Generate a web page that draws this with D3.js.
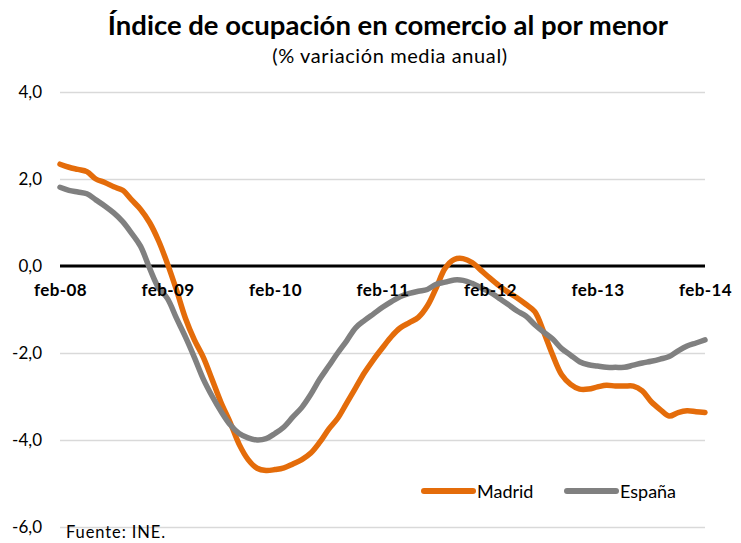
<!DOCTYPE html>
<html>
<head>
<meta charset="utf-8">
<script src="https://cdn.jsdelivr.net/npm/d3@7"></script>
<style>
  body { margin: 0; background: #fff; }
  svg { font-family: Lato, "Noto Sans", sans-serif; }
</style>
</head>
<body>
<div id="chart-area"></div>
<script>
// monthly categories feb-08 .. feb-14
const MONTHS = ['ene', 'feb', 'mar', 'abr', 'may', 'jun', 'jul', 'ago', 'sep', 'oct', 'nov', 'dic'];
const CATEGORIES = [];
for (let y = 8; y <= 14; y++) {
  MONTHS.forEach((m, i) => {
    if ((y === 8 && i < 1) || (y === 14 && i > 1)) return;
    CATEGORIES.push(m + '-' + String(y).padStart(2, '0'));
  });
}

const MADRID = [
  2.34, 2.27, 2.22, 2.17, 2.0, 1.92, 1.82, 1.74, 1.52, 1.30, 1.0, 0.58,
  0.05, -0.55, -1.2, -1.7, -2.1, -2.62, -3.15, -3.6, -4.1, -4.45, -4.65, -4.7,
  -4.68, -4.64, -4.55, -4.45, -4.3, -4.05, -3.75, -3.5, -3.15, -2.8, -2.45, -2.15,
  -1.88, -1.62, -1.42, -1.3, -1.18, -0.92, -0.5, -0.05, 0.15, 0.17, 0.08, -0.1,
  -0.28, -0.45, -0.6, -0.73, -0.88, -1.05, -1.52, -2.05, -2.5, -2.72, -2.83, -2.83,
  -2.78, -2.74, -2.76, -2.76, -2.76, -2.87, -3.12, -3.3, -3.45, -3.37, -3.33, -3.35,
  -3.37,
];

const ESPANA = [
  1.81, 1.74, 1.70, 1.66, 1.52, 1.38, 1.22, 1.02, 0.75, 0.45, -0.05, -0.5,
  -0.75, -1.2, -1.63, -2.1, -2.6, -3.0, -3.35, -3.65, -3.85, -3.95, -4.0, -3.97,
  -3.85, -3.7, -3.47, -3.25, -2.95, -2.6, -2.3, -2.0, -1.72, -1.42, -1.25, -1.1,
  -0.95, -0.82, -0.7, -0.63, -0.58, -0.54, -0.42, -0.37, -0.32, -0.33, -0.4, -0.5,
  -0.6, -0.74, -0.88, -1.03, -1.15, -1.35, -1.52, -1.68, -1.9, -2.05, -2.2, -2.27,
  -2.3, -2.33, -2.33, -2.33, -2.28, -2.23, -2.19, -2.14, -2.08, -1.95, -1.84, -1.77,
  -1.70,
];

const Y_TICKS = [-6, -4, -2, 0, 2, 4];
const X_TICKS = ['feb-08', 'feb-09', 'feb-10', 'feb-11', 'feb-12', 'feb-13', 'feb-14'];

const SERIES = [
  { name: 'Madrid', values: MADRID, stroke: '#E46C0A' },
  { name: 'España', values: ESPANA, stroke: '#808080' },
];

const W = 741, H = 543;
const margin = { top: 92, right: 36, bottom: 16, left: 60 };
const width = W - margin.left - margin.right;
const height = H - margin.top - margin.bottom;

const x = d3.scalePoint()
  .domain(CATEGORIES)
  .range([0, width]);

const y = d3.scaleLinear()
  .domain([-6, 4])
  .range([height, 0]);

const svg = d3.select('#chart-area')
  .append('svg')
  .attr('width', W)
  .attr('height', H);

// titles
svg.append('text')
  .attr('x', 388)
  .attr('y', 35)
  .attr('text-anchor', 'middle')
  .style('font-size', '27.5px')
  .style('font-weight', 'bold')
  .attr('fill', '#000')
  .text('Índice de ocupación en comercio al por menor');

svg.append('text')
  .attr('x', 390)
  .attr('y', 63)
  .attr('text-anchor', 'middle')
  .style('font-size', '20px')
  .style('letter-spacing', '0.6px')
  .attr('fill', '#000')
  .text('(% variación media anual)');

const chart = svg.append('g')
  .attr('transform', 'translate(' + margin.left + ',' + margin.top + ')');

// y axis with gridlines
const yAxis = d3.axisLeft(y)
  .tickValues(Y_TICKS)
  .tickSize(-width)
  .tickPadding(18)
  .tickFormat((d) => d3.format('.1f')(d).replace('.', ',').replace('−', '-'));

chart.append('g')
  .attr('class', 'y-axis')
  .call(yAxis)
  .call((g) => g.select('.domain').remove())
  .call((g) => g.selectAll('.tick line').attr('stroke', '#d9d9d9').attr('stroke-width', 1.5))
  .call((g) => g.selectAll('.tick text')
    .style('font-size', '17px')
    .style('font-family', 'Lato, sans-serif')
    .attr('fill', '#000'));

// zero line
chart.append('line')
  .attr('x1', 0)
  .attr('x2', width)
  .attr('y1', y(0))
  .attr('y2', y(0))
  .attr('stroke', '#000')
  .attr('stroke-width', 3);

const line = d3.line()
  .x((d, i) => x(CATEGORIES[i]))
  .y((d) => y(d))
  .curve(d3.curveCatmullRom.alpha(0.5));

chart.selectAll('.line')
  .data(SERIES)
  .enter()
  .append('path')
  .attr('class', 'line')
  .attr('fill', 'none')
  .attr('stroke', (d) => d.stroke)
  .attr('stroke-width', 5.5)
  .attr('stroke-linejoin', 'round')
  .attr('stroke-linecap', 'round')
  .attr('d', (d) => line(d.values));

// category labels on top of the lines
const xAxis = d3.axisBottom(x)
  .tickValues(X_TICKS)
  .tickSize(0)
  .tickPadding(18);

chart.append('g')
  .attr('class', 'x-axis')
  .attr('transform', 'translate(0,' + y(0) + ')')
  .call(xAxis)
  .call((g) => g.select('.domain').remove())
  .call((g) => g.selectAll('.tick text')
    .style('font-size', '17px')
    .style('font-weight', 'bold')
    .style('font-family', 'Lato, sans-serif')
    .style('letter-spacing', '0.4px')
    .attr('fill', '#000'));

// legend
const legend = svg.append('g')
  .attr('transform', 'translate(424,491)');

const item = legend.selectAll('.item')
  .data(SERIES)
  .enter()
  .append('g')
  .attr('class', 'item')
  .attr('transform', (d, i) => 'translate(' + (i * 143) + ',0)');

item.append('line')
  .attr('x1', 0)
  .attr('x2', 49)
  .attr('stroke', (d) => d.stroke)
  .attr('stroke-width', 6)
  .attr('stroke-linecap', 'round');

item.append('text')
  .attr('x', 53)
  .attr('y', 6.5)
  .style('font-size', '18px')
  .attr('fill', '#000')
  .text((d) => d.name);

// source
svg.append('text')
  .attr('x', 66)
  .attr('y', 538)
  .style('font-size', '16.5px')
  .style('letter-spacing', '0.9px')
  .attr('fill', '#000')
  .text('Fuente: INE.');
</script>
</body>
</html>
